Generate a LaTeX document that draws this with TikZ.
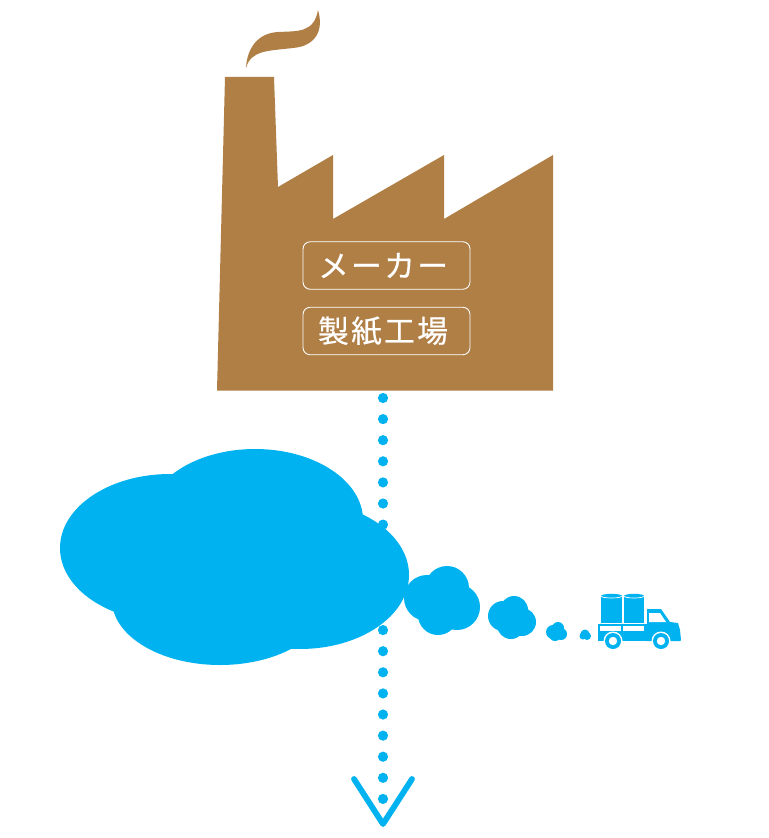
\documentclass[tikz,border=0pt]{standalone}
\usepackage{fontspec}
\newfontfamily\cjk[LetterSpace=7.5, FakeBold=0.5]{Noto Sans CJK JP}
\usetikzlibrary{positioning}
\definecolor{factbrown}{RGB}{175, 127, 70}
\definecolor{cloudblue}{RGB}{0, 179, 240}
\tikzset{
  lbox/.style={
    rectangle, rounded corners=4pt,
    draw=white, line width=0.5pt, text=white,
    minimum width=95pt, minimum height=27pt,
    font=\cjk\fontsize{17.5pt}{19pt}\selectfont, inner sep=0pt
  },
  fact/.style={fill=factbrown, draw=none},
  puff/.style={fill=cloudblue, draw=none},
  dotline/.style={draw=cloudblue, line width=5.8pt, line cap=round, dash pattern=on 0pt off 12.01pt},
  vtip/.style={draw=cloudblue, line width=3.3pt, line cap=round, line join=round},
}
\begin{document}
\begin{tikzpicture}[x=0.02cm, y=-0.02cm]
        \useasboundingbox (0,0) rectangle (768,838);
        \fill[fact] (225,77) -- (274,77) -- (278,187) -- (333,155) -- (333,219) -- (444,155) -- (444,219) -- (553,155) -- (553,390.5) -- (217,390.5) -- cycle;
        \fill[fact] (246,68) .. controls (247,48) and (258,33) .. (278,32) .. controls (298,31) and (314,33) .. (318,10)
          .. controls (324,30) and (316,46) .. (293,48) .. controls (268,51) and (251,50) .. (246,68) -- cycle;
        \node[lbox] (maker) at (386.5,265.5) {\rule{0pt}{0pt}メーカー\rule{4pt}{0pt}};
        \node[lbox] (mill) at (386.5,331) {\rule{0pt}{0pt}製紙工場\rule{4pt}{0pt}};
        \coordinate (dotstart) at (383,398);
        \coordinate (dotend) at (383,799);
        \draw[dotline] (dotstart) -- (dotend);
        \coordinate (vleft) at (354,779);
        \coordinate (vtipp) at (383,824);
        \coordinate (vright) at (412,779);
        \draw[vtip] (vleft) -- (vtipp) -- (vright);
        \fill[puff] (170,548) ellipse [x radius=110, y radius=74];
        \fill[puff] (255,520) ellipse [x radius=108, y radius=71];
        \fill[puff] (300,575) ellipse [x radius=109, y radius=74];
        \fill[puff] (220,600) ellipse [x radius=108, y radius=65];
        \foreach \cx/\cy/\cr in {427/598/23, 447/588/22, 457/607/23, 438/615/20,
          503/616/15, 514/610/14, 522/622/14, 511/625/14,
          553/632/7, 558/628/6, 561/634/6, 555/635/6,
          585/634/4.5, 587/636/4, 583/636/3.5}
          \fill[puff] (\cx,\cy) circle [radius=\cr];
        \fill[puff] (601,596) rectangle (622,623);
        \fill[puff] (624,596) rectangle (644,623);
        \fill[puff] (611.5,596) ellipse [x radius=10.5, y radius=2.2];
        \fill[puff] (634,596) ellipse [x radius=10, y radius=2.2];
        \draw[white, line width=0.4pt] (601,596) arc [start angle=180, end angle=360, x radius=10.5, y radius=-2];
        \draw[white, line width=0.4pt] (624,596) arc [start angle=180, end angle=360, x radius=10, y radius=-2];
        \fill[puff] (598,624) rectangle (647,641);
        \fill[white] (600,626) rectangle (621,631);
        \fill[white] (623,626) rectangle (644,631);
        \fill[puff] (647,609) -- (661,609) -- (670,622) -- (678,623) -- (680,630) -- (681,640) -- (680,641) -- (647,641) -- cycle;
        \fill[white] (649,613) -- (660,613) -- (666,622) -- (649,622) -- cycle;
        \foreach \wx in {613,661} {
          \fill[white] (\wx,641) circle [radius=9.5];
          \fill[puff] (\wx,641) circle [radius=8];
          \fill[white] (\wx,641) circle [radius=4.2];
        }
      \end{tikzpicture}
\end{document}
